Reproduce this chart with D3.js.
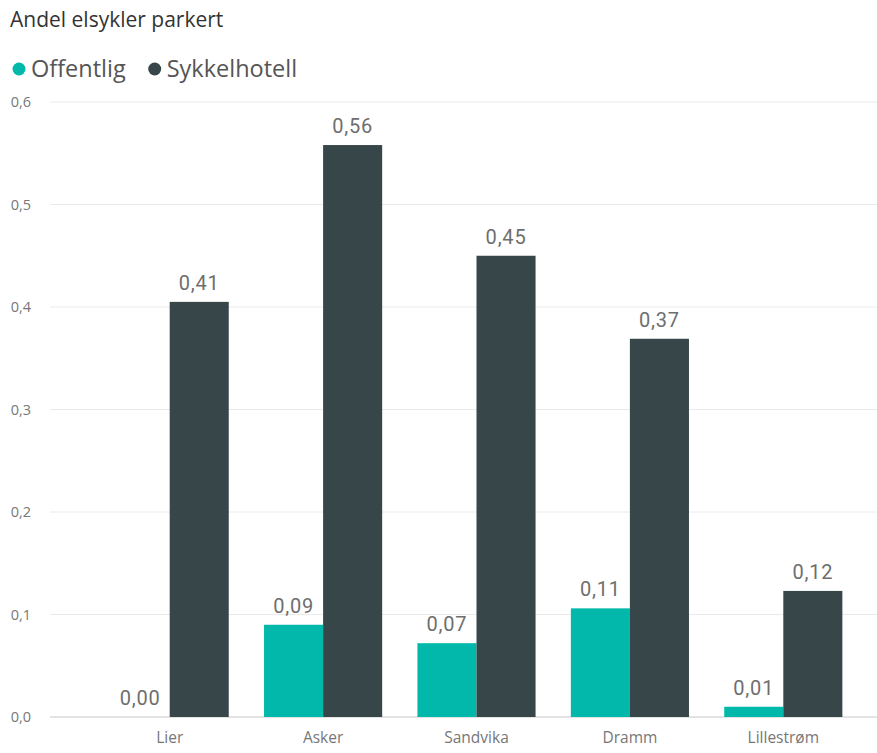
<!DOCTYPE html>
<html><head><meta charset="utf-8">
<script src="https://cdn.jsdelivr.net/npm/d3@7"></script>
<style>body{margin:0;background:#fff;} svg{display:block;}</style>
</head><body>
<svg id="c" width="877" height="753"></svg>
<script>
const categories = ["Lier", "Asker", "Sandvika", "Dramm", "Lillestrøm"];
const seriesNames = ["Offentlig", "Sykkelhotell"];
const offentlig = [0.0, 0.09, 0.072, 0.106, 0.01];
const sykkelhotell = [0.405, 0.558, 0.45, 0.369, 0.123];
const yTicks = [0, 0.1, 0.2, 0.3, 0.4, 0.5, 0.6];
const colors = ["#01B8AA", "#374649"];

const svg = d3.select("#c");
const fmt = v => d3.format(".2f")(v).replace(".", ",");
const fmt1 = v => d3.format(".1f")(v).replace(".", ",");

const y = d3.scaleLinear().domain([0, 0.6]).range([717, 102]);
const x0 = d3.scaleBand().domain(categories).range([93, 860]).paddingInner(0.23).paddingOuter(0.115);
const x1 = d3.scaleBand().domain(seriesNames).range([0, x0.bandwidth()]);

// title
svg.append("text").attr("x", 10).attr("y", 27).text("Andel elsykler parkert")
  .attr("font-family", "'Segoe UI','Open Sans',sans-serif").attr("font-size", 21).attr("fill", "#333");

// legend
const lg = svg.append("g");
let lx = 12;
seriesNames.forEach((n, i) => {
  lg.append("circle").attr("cx", lx + 7).attr("cy", 69).attr("r", 6.5).attr("fill", colors[i]);
  const t = lg.append("text").attr("x", lx + 19).attr("y", 77).text(n)
    .attr("font-family", "'Segoe UI','Open Sans',sans-serif").attr("font-size", 23.5).attr("fill", "#555");
  lx += 19 + t.node().getComputedTextLength() + 22;
});

// grid + y axis
const yAxis = d3.axisLeft(y).tickValues(yTicks).tickSize(0).tickFormat(fmt1);
const ga = svg.append("g").attr("transform", "translate(34,0)").call(yAxis);
ga.select(".domain").remove();
ga.selectAll("text").attr("font-family", "'Segoe UI','Open Sans',sans-serif").attr("font-size", 14.5).attr("fill", "#777").attr("dx", 0);
svg.append("g").selectAll("line").data(yTicks).join("line")
  .attr("x1", 50).attr("x2", 877).attr("y1", d => y(d)).attr("y2", d => y(d))
  .attr("stroke", d => d === 0 ? "#c8c8c8" : "#eaeaea").attr("stroke-width", 1);

// bars
const data = categories.map((c, i) => ({c, vals: [offentlig[i], sykkelhotell[i]]}));
const gb = svg.append("g");
data.forEach(d => {
  d.vals.forEach((v, si) => {
    const bx = x0(d.c) + x1(seriesNames[si]);
    gb.append("rect").attr("x", bx).attr("width", x1.bandwidth())
      .attr("y", y(v)).attr("height", y(0) - y(v)).attr("fill", colors[si]);
    gb.append("text").attr("x", bx + x1.bandwidth() / 2).attr("y", y(v) - 12)
      .attr("text-anchor", "middle").text(fmt(v))
      .attr("font-family", "'DIN','Roboto','Open Sans',sans-serif").attr("font-size", 20)
      .attr("letter-spacing", 0.8).attr("fill", "#6e6e6e");
  });
});

// x axis
const xAxis = d3.axisBottom(x0).tickSize(0);
const gx = svg.append("g").attr("transform", "translate(0,717)").call(xAxis);
gx.select(".domain").remove();
gx.selectAll("text").attr("font-family", "'Segoe UI','Open Sans',sans-serif").attr("font-size", 15.5).attr("fill", "#777").attr("dy", "1.5em");
</script>
</body></html>
